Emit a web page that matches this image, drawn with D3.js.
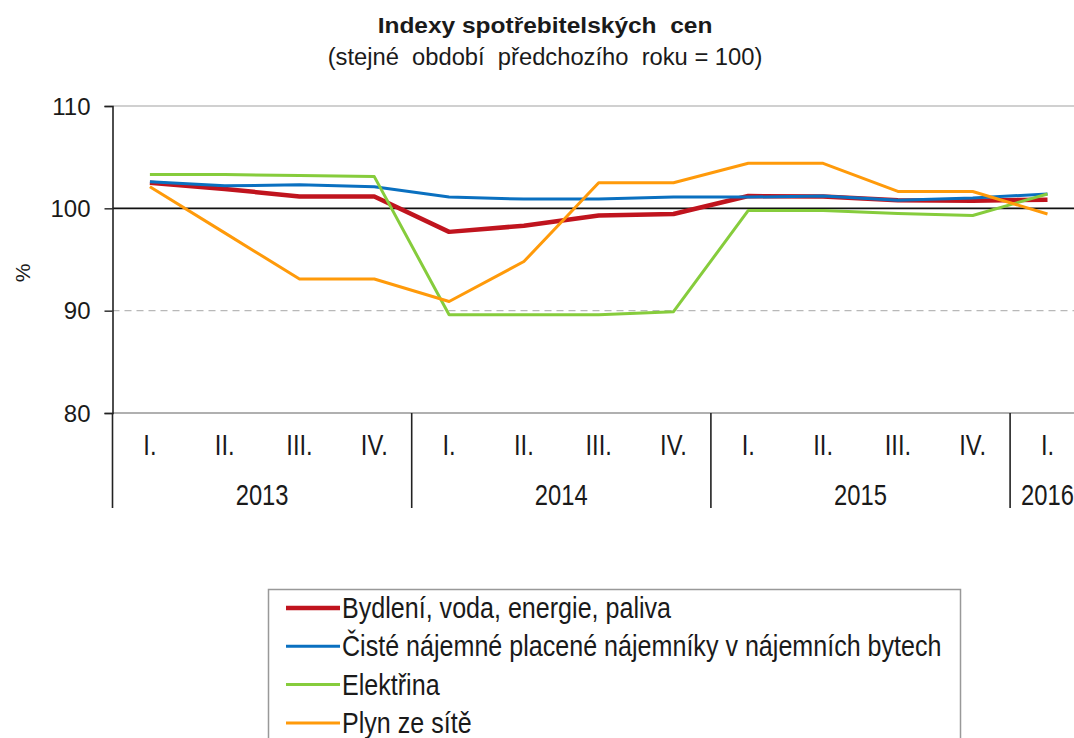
<!DOCTYPE html>
<html><head><meta charset="utf-8">
<script src="https://cdn.jsdelivr.net/npm/d3@7"></script>
<style>body{margin:0;background:#fff}svg{display:block}text{font-family:"Liberation Sans",Arial,sans-serif;fill:#1a1a1a}</style>
</head><body><svg id="c" width="1074" height="738"></svg>
<script>
const quarters = ["I.","II.","III.","IV.","I.","II.","III.","IV.","I.","II.","III.","IV.","I."];
const years = ["2013","2013","2013","2013","2014","2014","2014","2014","2015","2015","2015","2015","2016"];
const yTicks = [80, 90, 100, 110];
const bydleni = [102.5,101.9,101.15,101.15,97.7,98.3,99.3,99.45,101.2,101.15,100.8,100.75,100.85];
const najemne = [102.6,102.2,102.3,102.1,101.1,100.9,100.9,101.1,101.1,101.2,100.8,101.0,101.4];
const elektrina = [103.3,103.3,103.2,103.1,89.6,89.6,89.6,89.9,99.8,99.8,99.5,99.3,101.4];
const plyn = [102.1,97.6,93.1,93.1,90.9,94.8,102.5,102.5,104.4,104.4,101.65,101.65,99.45];
const seriesNames = ["Bydlení, voda, energie, paliva","Čisté nájemné placené nájemníky v nájemních bytech","Elektřina","Plyn ze sítě"];
const seriesColors = ["#c0141e","#0a70c0","#86cc3c","#ff9a0a"];
const seriesWidths = [4.5,3,3,3];
const seriesData = [bydleni, najemne, elektrina, plyn];

const svg = d3.select("#c");
const L = 112.5, T = 106, B = 413;
const idx = d3.range(quarters.length);
const x = d3.scaleBand().domain(idx).range([L, L + 74.8*13]).paddingInner(0).paddingOuter(0);
const y = d3.scaleLinear().domain([80,110]).range([B, T]);

// condensed text helper: place text at (px,py) with horizontal scale sx, or fit to a target width
function ctext(parent, px, py, str, size, anchor, sx, targetW, bold) {
  const g = parent.append("g").attr("transform", `translate(${px},${py})`);
  const t = g.append("text").attr("x",0).attr("y",0).attr("text-anchor",anchor)
    .style("font-size", size + "px").style("white-space","pre").text(str);
  if (bold) t.style("font-weight","bold");
  let s = sx;
  if (targetW) s = targetW / t.node().getComputedTextLength();
  t.attr("transform", `scale(${s},1)`);
  return t;
}

// title
ctext(svg, 545, 33, "Indexy spotřebitelských  cen", 22, "middle", 1, 335, true);
ctext(svg, 545, 65, "(stejné  období  předchozího  roku = 100)", 24, "middle", 1, 435, false);

// gridlines
const gx1 = L, gx2 = 1074;
svg.append("line").attr("x1",gx1).attr("x2",gx2).attr("y1",y(110)).attr("y2",y(110)).attr("stroke","#d0d0d0").attr("stroke-width",2);
svg.append("line").attr("x1",gx1).attr("x2",gx2).attr("y1",y(90)).attr("y2",y(90)).attr("stroke","#b8b8b8").attr("stroke-width",1.2).attr("stroke-dasharray","7,5");
svg.append("line").attr("x1",gx1).attr("x2",gx2).attr("y1",y(80)).attr("y2",y(80)).attr("stroke","#b0b0b0").attr("stroke-width",2);
svg.append("line").attr("x1",gx1).attr("x2",gx2).attr("y1",y(100)).attr("y2",y(100)).attr("stroke","#111").attr("stroke-width",1.6);

// y axis
const ya = svg.append("g").attr("transform",`translate(${L},0)`)
  .call(d3.axisLeft(y).tickValues(yTicks).tickSize(8).tickPadding(14));
ya.select(".domain").attr("stroke","#222").attr("stroke-width",1.6);
ya.selectAll(".tick line").attr("stroke","#222").attr("stroke-width",1.4);
ya.selectAll(".tick text").style("font-size","24px").style("font-family",'"Liberation Sans",Arial,sans-serif').attr("fill","#1a1a1a").attr("dy","0.34em");
svg.append("text").attr("transform","translate(30,273) rotate(-90)").attr("text-anchor","middle").style("font-size","21px").text("%");

// x axis labels
const xl = svg.append("g");
idx.forEach(d => ctext(xl, x(d) + x.bandwidth()/2, 455, quarters[d], 29, "middle", 0.82));
// year groups
const yearGroups = d3.groups(idx, d => years[d]);
yearGroups.forEach(g => {
  const cx = (x(g[1][0]) + x(g[1][g[1].length-1]) + x.bandwidth())/2;
  ctext(xl, cx, 505, g[0], 29, "middle", 0.82);
});
// separators
const seps = yearGroups.map(g => x(g[1][0]));
svg.append("g").selectAll("line").data(seps).join("line")
  .attr("x1", d => d).attr("x2", d => d).attr("y1", B).attr("y2", 508)
  .attr("stroke","#222").attr("stroke-width",1.6);

// lines
const line = d3.line().x((d,i) => x(i) + x.bandwidth()/2).y(d => y(d));
seriesData.forEach((s,k) => {
  svg.append("path").datum(s).attr("d", line).attr("fill","none")
    .attr("stroke", seriesColors[k]).attr("stroke-width", seriesWidths[k]).attr("stroke-linejoin","round");
});

// legend
const lg = svg.append("g");
lg.append("rect").attr("x",268.5).attr("y",589.5).attr("width",692).attr("height",160).attr("fill","#fff").attr("stroke","#999").attr("stroke-width",1.5);
seriesNames.forEach((n,k) => {
  const cy = 608 + k*38.3;
  lg.append("line").attr("x1",286).attr("x2",340).attr("y1",cy).attr("y2",cy).attr("stroke",seriesColors[k]).attr("stroke-width",seriesWidths[k]);
  ctext(lg, 342, cy + 10, n, 29, "start", 0.865);
});
</script></body></html>
